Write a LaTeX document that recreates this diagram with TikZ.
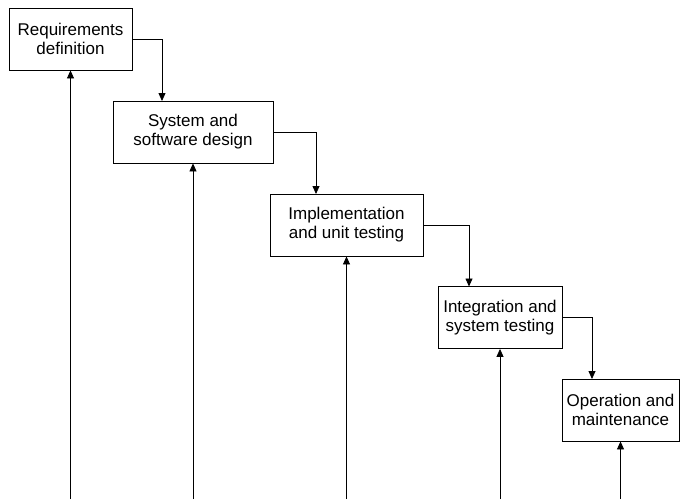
\documentclass[tikz,border=0pt]{standalone}
\usepackage{fontspec}
\setmainfont{Liberation Sans}
\usetikzlibrary{arrows.meta,positioning}

\begin{document}
\begin{tikzpicture}
			[x=1pt,y=-1pt,>={Triangle[length=8pt,width=7pt]},
			phase/.style={rectangle,draw=black,line width=0.8pt,minimum height=62pt,inner sep=0pt,align=center,
				font=\fontsize{17}{19}\selectfont},
			flow/.style={->,draw=black,line width=0.8pt}]
			
			\useasboundingbox (0,0) rectangle (680,499);
			\coordinate (base) at (0,499);
			
			\node [phase,minimum width=123pt](req) at (70.5,39)    {Requirements\\definition};
			\node [phase,minimum width=160pt](des) at (193,132)    {System and\\software design};
			\node [phase,minimum width=153pt](imp) at (346.5,225)  {Implementation\\and unit testing};
			\node [phase,minimum width=124pt](int) at (500,317.5)  {Integration and\\system testing};
			\node [phase,minimum width=117pt](ope) at (620.5,410)  {Operation and\\maintenance};
			
			% drop points on the next box
			\coordinate (d2) at (162,101);
			\coordinate (d3) at (316,194);
			\coordinate (d4) at (469,286.5);
			\coordinate (d5) at (592,379);
			
			\draw [flow] (req.east) -| (d2);
			\draw [flow] (des.east) -| (d3);
			\draw [flow] (imp.east) -| (d4);
			\draw [flow] (int.east) -| (d5);
			
			% feedback from below
			\foreach \p in {req,des,imp,int,ope}
				\draw [flow] (\p.south |- base) -- (\p.south);
			
\end{tikzpicture}
\end{document}
